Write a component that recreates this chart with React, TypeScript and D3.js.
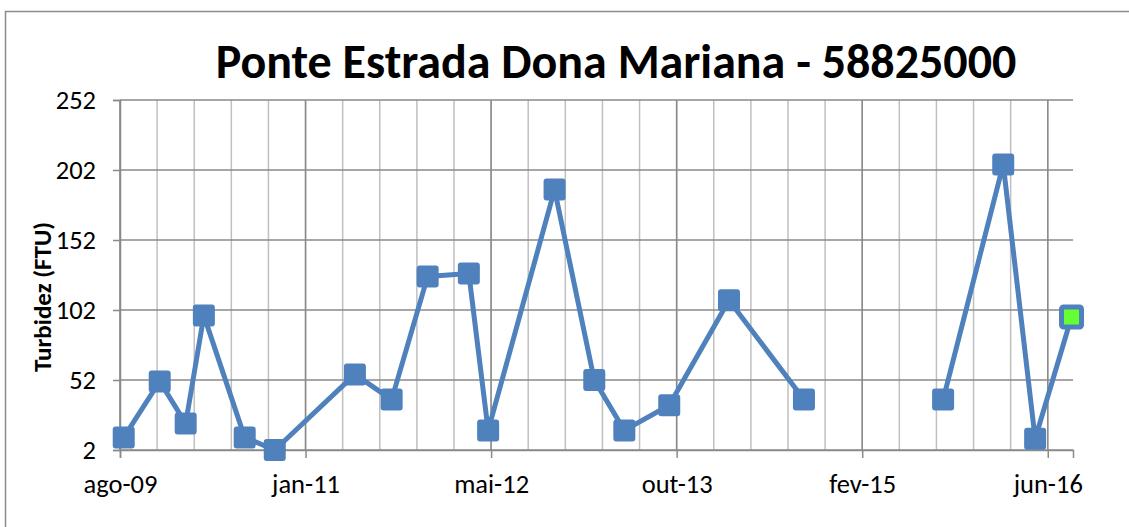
import * as d3 from 'd3';
import { useEffect, useRef } from 'react';

const sampleDates = [
  '2009-09-04', '2009-12-10', '2010-02-18', '2010-04-08', '2010-07-27', '2010-10-16',
  '2011-05-20', '2011-08-27', '2011-12-02', '2012-03-22', '2012-05-13', '2012-11-08',
  '2013-02-23', '2013-05-15', '2013-09-13', '2014-02-21', '2014-09-11', '2015-03-15',
  '2015-09-21', '2016-03-01', '2016-05-26', '2016-09-01'
];
const turbidity: (number | null)[] = [
  11, 51, 21, 98, 11, 2,
  56, 38, 126, 128, 16, 188,
  52, 16, 34, 109, 38, null,
  38, 206, 10, 97
];
const yTicks = [2, 52, 102, 152, 202, 252];
const monthNames = ['jan', 'fev', 'mar', 'abr', 'mai', 'jun', 'jul', 'ago', 'set', 'out', 'nov', 'dez'];
const axisStart = '2009-08-25';
const axisDays = 2568;
const majorStepDays = 500;
const minorStepDays = 100;
const highlightIndex = turbidity.length - 1;

const title = 'Ponte Estrada Dona Mariana - 58825000';
const yTitle = 'Turbidez (FTU)';

export default function App() {
  const ref = useRef<SVGSVGElement>(null);

  useEffect(() => {
    const svg = d3.select(ref.current);
    svg.selectAll('*').remove();

    const width = 1129;
    const height = 527;
    const margin = { top: 100, right: 56, bottom: 77, left: 120 };
    const font = 'Carlito, Calibri, Lato, sans-serif';

    const parse = d3.timeParse('%Y-%m-%d');
    const start = parse(axisStart) as Date;
    const end = d3.timeDay.offset(start, axisDays);

    const x = d3.scaleTime().domain([start, end]).range([margin.left, width - margin.right]);
    const y = d3.scaleLinear().domain([2, 252]).range([height - margin.bottom, margin.top]);

    const majors = d3.range(0, axisDays, majorStepDays).map((d) => d3.timeDay.offset(start, d));
    const minors = d3.range(0, axisDays, minorStepDays).map((d) => d3.timeDay.offset(start, d));
    const fmt = (d: Date) => `${monthNames[d.getMonth()]}-${String(d.getFullYear()).slice(2)}`;

    // outer frame
    svg
      .append('rect')
      .attr('x', 5.5)
      .attr('y', 11.5)
      .attr('width', width + 20)
      .attr('height', height + 20)
      .attr('fill', 'white')
      .attr('stroke', '#8c8c8c')
      .attr('stroke-width', 1.5);

    // title
    svg
      .append('text')
      .attr('x', 616)
      .attr('y', 78)
      .attr('text-anchor', 'middle')
      .style('font-family', font)
      .style('font-weight', 700)
      .style('font-size', '48px')
      .text(title);

    const grid = svg.append('g');
    grid
      .selectAll('.minor')
      .data(minors)
      .join('line')
      .attr('x1', (d) => x(d))
      .attr('x2', (d) => x(d))
      .attr('y1', y(252))
      .attr('y2', y(2))
      .attr('stroke', '#c0c0c0')
      .attr('stroke-width', 1.5);
    grid
      .selectAll('.major')
      .data(majors)
      .join('line')
      .attr('x1', (d) => x(d))
      .attr('x2', (d) => x(d))
      .attr('y1', y(252))
      .attr('y2', y(2))
      .attr('stroke', '#8a8a8a')
      .attr('stroke-width', 1.5);
    grid
      .selectAll('.hgrid')
      .data(yTicks)
      .join('line')
      .attr('x1', margin.left)
      .attr('x2', width - margin.right)
      .attr('y1', (d) => y(d))
      .attr('y2', (d) => y(d))
      .attr('stroke', '#8a8a8a')
      .attr('stroke-width', 1.5);

    const yAxis = (g: any) =>
      g
        .attr('transform', `translate(${margin.left},0)`)
        .call(d3.axisLeft(y).tickValues(yTicks).tickSize(7).tickPadding(17))
        .call((g: any) => g.selectAll('line, path').attr('stroke', '#8a8a8a').attr('stroke-width', 1.5))
        .call((g: any) =>
          g.selectAll('text').attr('fill', '#000').style('font-family', font).style('font-size', '26.5px')
        );
    svg.append('g').call(yAxis);

    const xAxis = (g: any) =>
      g
        .attr('transform', `translate(0,${height - margin.bottom})`)
        .call(d3.axisBottom(x).tickValues(majors).tickFormat(fmt as any).tickSize(8).tickPadding(16))
        .call((g: any) => g.selectAll('line, path').attr('stroke', '#8a8a8a').attr('stroke-width', 1.5))
        .call((g: any) =>
          g.selectAll('text').attr('fill', '#000').style('font-family', font).style('font-size', '26.5px')
        );
    svg.append('g').call(xAxis);

    svg
      .append('text')
      .attr('transform', `translate(42,297) rotate(-90)`)
      .attr('text-anchor', 'middle')
      .attr('dominant-baseline', 'central')
      .style('font-family', font)
      .style('font-weight', 700)
      .style('font-size', '25px')
      .text(yTitle);

    const data = sampleDates.map((d, i) => ({ date: parse(d) as Date, value: turbidity[i], i }));

    const line = d3
      .line<any>()
      .defined((d) => d.value !== null)
      .x((d) => x(d.date))
      .y((d) => y(d.value));

    svg
      .append('path')
      .datum(data)
      .attr('d', line)
      .attr('fill', 'none')
      .attr('stroke', '#4f81bd')
      .attr('stroke-width', 5)
      .attr('stroke-linejoin', 'round');

    const size = 20;
    svg
      .append('g')
      .selectAll('rect')
      .data(data.filter((d) => d.value !== null))
      .join('rect')
      .attr('x', (d) => x(d.date) - size / 2)
      .attr('y', (d) => y(d.value as number) - size / 2)
      .attr('width', size)
      .attr('height', size)
      .attr('rx', 2)
      .attr('fill', (d) => (d.i === highlightIndex ? '#66ff33' : '#4f81bd'))
      .attr('stroke', '#4f81bd')
      .attr('stroke-width', (d) => (d.i === highlightIndex ? 5 : 2));
  }, []);

  return (
    <svg
      ref={ref}
      width={1129}
      height={527}
      style={{ position: 'absolute', left: 0, top: 0, background: 'white' }}
    />
  );
}
